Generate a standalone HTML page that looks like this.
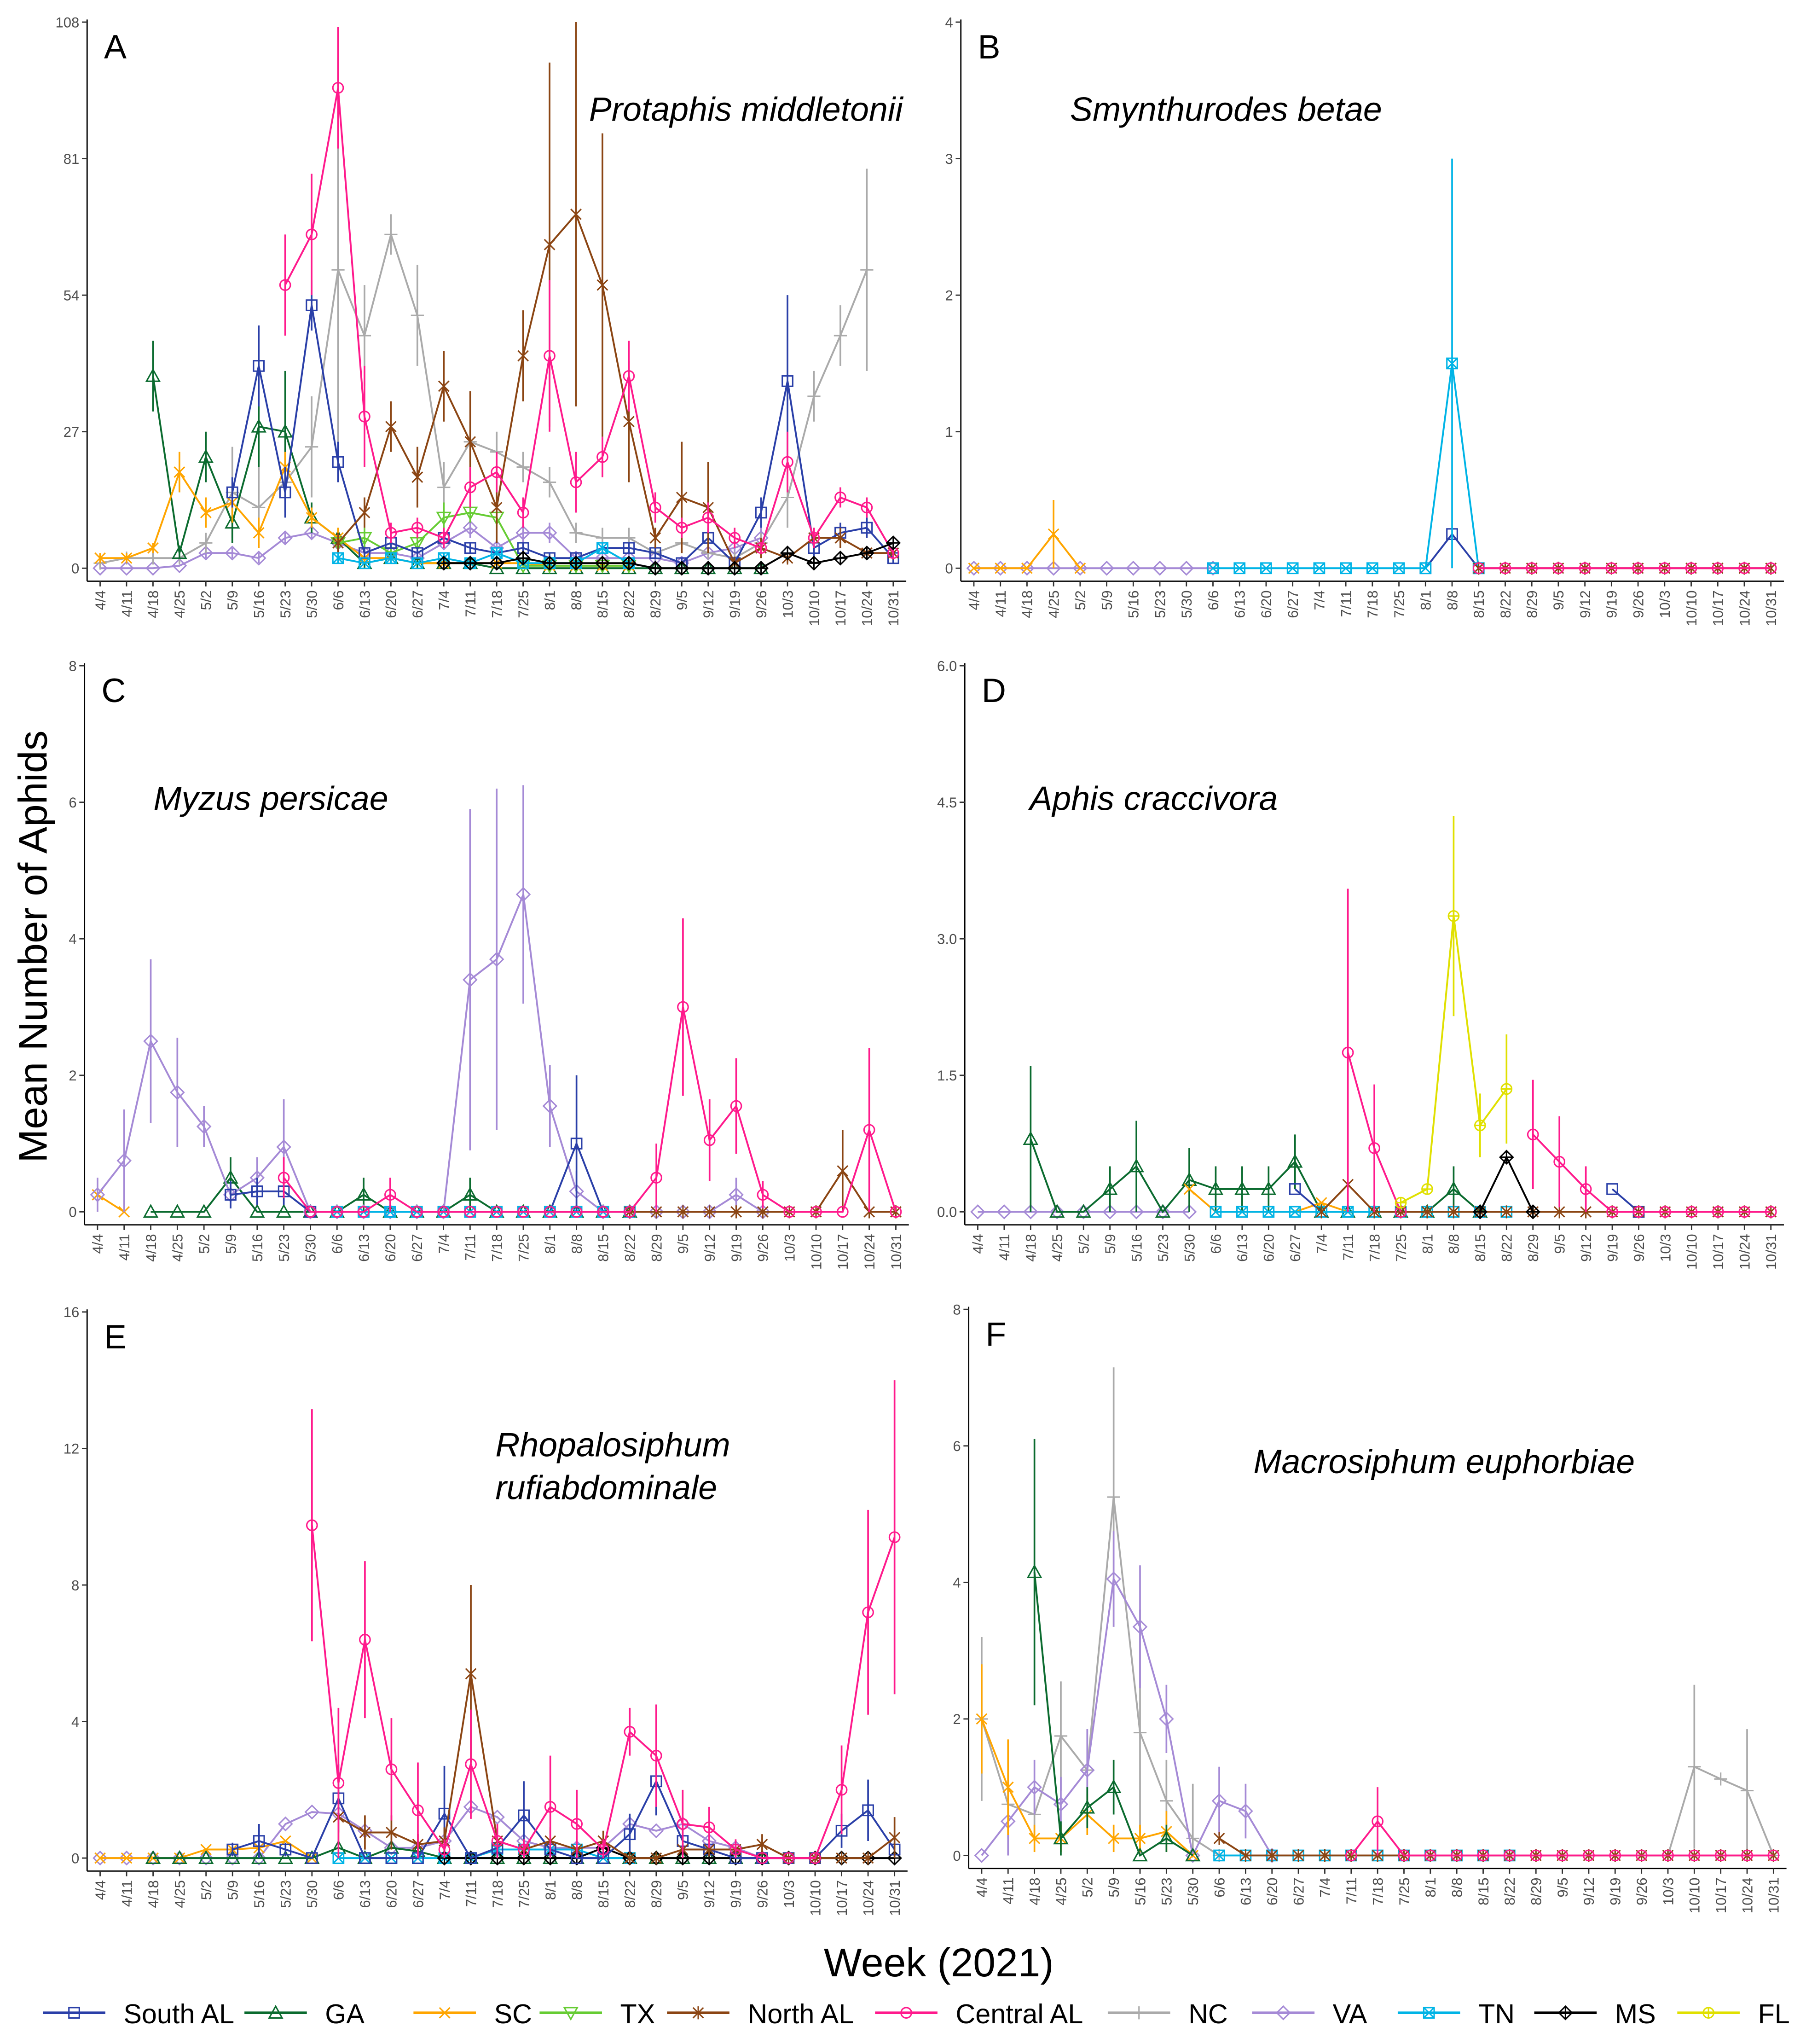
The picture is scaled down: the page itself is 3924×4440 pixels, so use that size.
<!DOCTYPE html>
<html><head><meta charset="utf-8"><style>
html,body{margin:0;padding:0;background:#fff}
svg{display:block}
text{font-family:"Liberation Sans",sans-serif}
</style></head><body>
<svg id="chart" width="3924" height="4440" viewBox="0 0 1389 1572" preserveAspectRatio="none" xmlns="http://www.w3.org/2000/svg">
<rect x="0" y="0" width="1389" height="1572" fill="#fff"/>
<g id="root"></g>
</svg>
<script>
const n = null;
const weeks = ["4/4","4/11","4/18","4/25","5/2","5/9","5/16","5/23","5/30","6/6","6/13","6/20","6/27","7/4","7/11","7/18","7/25","8/1","8/8","8/15","8/22","8/29","9/5","9/12","9/19","9/26","10/3","10/10","10/17","10/24","10/31"];

// Panel A
const A_southAL = [n,n,n,n,n,15,40,15,52,21,3,5,3,6,4,3,4,2,2,4,4,3,1,6,1,11,37,4,7,8,2];
const A_southAL_err = [0,0,0,0,0,3,8,5,5,4,1,1,1,1,1,1,1,1,1,1,1,1,1,2,1,3,17,2,2,2,1];
const A_GA = [n,n,38,3,22,9,28,27,10,6,1,2,1,1,1,0,0,0,0,0,0,0,0,0,0,0,n,n,n,n,n];
const A_GA_err = [0,0,7,1,5,4,8,12,3,2,1,1,1,1,1,0,0,0,0,0,0,0,0,0,0,0,0,0,0,0,0];
const A_SC = [2,2,4,19,11,13,7,20,10,6,2,2,1,1,1,1,1,0.5,0.5,0.5,0.5,n,n,n,n,n,n,n,n,n,n];
const A_SC_err = [1,1,1,4,3,4,3,3,2,2,1,1,0,0,0,0,0,0,0,0,0,0,0,0,0,0,0,0,0,0,0];
const A_TX = [n,n,n,n,n,n,n,n,n,5,6,3,5,10,11,10,0.5,0.5,0.5,0.5,0.5,n,n,n,n,n,n,n,n,n,n];
const A_TX_err = [0,0,0,0,0,0,0,0,0,1,2,1,2,3,2,3,0,0,0,0,0,0,0,0,0,0,0,0,0,0,0];
const A_northAL = [n,n,n,n,n,n,n,n,n,5,11,28,18,36,25,12,42,64,70,56,29,6,14,12,1,4,2,6,6,3,3];
const A_northAL_err = [0,0,0,0,0,0,0,0,0,2,3,5,6,7,10,7,9,36,38,30,12,2,11,9,1,2,1,2,2,1,1];
const A_centralAL = [n,n,n,n,n,n,n,56,66,95,30,7,8,6,16,19,11,42,17,22,38,12,8,10,6,4,21,6,14,12,3];
const A_centralAL_err = [0,0,0,0,0,0,0,10,12,12,10,2,2,2,4,4,3,15,6,4,7,3,2,3,2,1,6,2,2,2,1];
const A_NC = [1,2,2,2,5,15,12,17,24,59,46,66,50,16,25,23,20,17,7,6,6,3,5,3,2,5,14,34,46,59,n];
const A_NC_err = [1,1,1,1,2,9,8,6,10,42,10,4,10,5,4,4,3,3,2,2,2,1,2,1,1,2,6,5,6,20,0];
const A_VA = [0,0,0,0.5,3,3,2,6,7,5,3,3,2,5,8,4,7,7,2,2,2,2,1,3,4,6,n,n,n,n,n];
const A_VA_err = [0,0,0,0,1,1,1,1,1,1,1,1,1,1,2,1,2,2,1,1,1,1,0,1,1,2,0,0,0,0,0];
const A_TN = [n,n,n,n,n,n,n,n,n,2,1,2,1,2,1,3,1,1,1,4,1,n,n,n,n,n,n,n,n,n,n];
const A_TN_err = [0,0,0,0,0,0,0,0,0,1,0,1,0,1,0,1,0,0,0,1,0,0,0,0,0,0,0,0,0,0,0];
const A_MS = [n,n,n,n,n,n,n,n,n,n,n,n,n,1,1,1,2,1,1,1,1,0,0,0,0,0,3,1,2,3,5];

// Panel B
const B_VA = [0,0,0,0,0,0,0,0,0,0,n,n,n,n,n,n,n,n,n,n,n,n,n,n,n,n,n,n,n,n,n];
const B_SC = [0,0,0,0.25,0,n,n,n,n,n,n,n,n,n,n,n,n,n,n,n,n,n,n,n,n,n,n,n,n,n,n];
const B_SC_err = [0,0,0,0.25,0,0,0,0,0,0,0,0,0,0,0,0,0,0,0,0,0,0,0,0,0,0,0,0,0,0,0];
const B_southAL = [n,n,n,n,n,n,n,n,n,n,n,n,n,n,n,n,n,0,0.25,0,n,n,n,n,n,n,n,n,n,n,n];
const B_TN = [n,n,n,n,n,n,n,n,n,0,0,0,0,0,0,0,0,0,1.5,0,n,n,n,n,n,n,n,n,n,n,n];
const B_TN_err = [0,0,0,0,0,0,0,0,0,0,0,0,0,0,0,0,0,0,1.5,0,0,0,0,0,0,0,0,0,0,0,0];
const B_centralAL = [n,n,n,n,n,n,n,n,n,n,n,n,n,n,n,n,n,n,n,0,0,0,0,0,0,0,0,0,0,0,0];
const B_northAL = [n,n,n,n,n,n,n,n,n,n,n,n,n,n,n,n,n,n,n,0,0,0,0,0,0,0,0,0,0,0,0];

// Panel C
const C_VA = [0.25,0.75,2.5,1.75,1.25,0.25,0.5,0.95,0,0,0,0,0,0,3.4,3.7,4.65,1.55,0.3,0,0,0,0,0,0.25,0,n,n,n,n,n];
const C_VA_err = [0.25,0.75,1.2,0.8,0.3,0.2,0.3,0.7,0,0,0,0,0,0,2.5,2.5,1.6,0.6,0.3,0,0,0,0,0,0.25,0,0,0,0,0,0];
const C_SC = [0.25,0,n,n,n,n,n,n,n,n,n,n,n,n,n,n,n,n,n,n,n,n,n,n,n,n,n,n,n,n,n];
const C_GA = [n,n,0,0,0,0.5,0,0,0,0,0.25,0,0,0,0.25,0,0,0,0,0,0,n,n,n,n,n,n,n,n,n,n];
const C_GA_err = [0,0,0,0,0,0.3,0,0,0,0,0.25,0,0,0,0.25,0,0,0,0,0,0,0,0,0,0,0,0,0,0,0,0];
const C_southAL = [n,n,n,n,n,0.25,0.3,0.3,0,0,0,0,0,0,0,0,0,0,1.0,0,0,n,n,n,n,n,n,n,n,n,n];
const C_southAL_err = [0,0,0,0,0,0.2,0.2,0.2,0,0,0,0,0,0,0,0,0,0,1.0,0,0,0,0,0,0,0,0,0,0,0,0];
const C_centralAL = [n,n,n,n,n,n,n,0.5,0,0,0,0.25,0,0,0,0,0,0,0,0,0,0.5,3.0,1.05,1.55,0.25,0,0,0,1.2,0];
const C_centralAL_err = [0,0,0,0,0,0,0,0.3,0,0,0,0.25,0,0,0,0,0,0,0,0,0,0.5,1.3,0.6,0.7,0.2,0,0,0,1.2,0];
const C_northAL = [n,n,n,n,n,n,n,n,n,n,n,n,n,n,n,n,n,n,n,n,0,0,0,0,0,0,0,0,0.6,0,0];
const C_northAL_err = [0,0,0,0,0,0,0,0,0,0,0,0,0,0,0,0,0,0,0,0,0,0,0,0,0,0,0,0,0.6,0,0];
const C_TN = [n,n,n,n,n,n,n,n,n,0,0,0,0,0,0,0,0,0,0,0,0,n,n,n,n,n,n,n,n,n,n];

// Panel D
const D_VA = [0,0,0,0,0,0,0,0,0,n,n,n,n,n,n,n,n,n,n,n,n,n,n,n,n,n,n,n,n,n,n];
const D_GA = [n,n,0.8,0,0,0.25,0.5,0,0.35,0.25,0.25,0.25,0.55,0,0,0,0,0,0.25,0,n,n,n,n,n,n,n,n,n,n,n];
const D_GA_err = [0,0,0.8,0,0,0.25,0.5,0,0.35,0.25,0.25,0.25,0.3,0,0,0,0,0,0.25,0,0,0,0,0,0,0,0,0,0,0,0];
const D_SC = [n,n,n,n,n,n,n,n,0.25,0,0,0,0,0.1,0,n,n,n,n,n,n,n,n,n,n,n,n,n,n,n,n];
const D_southAL = [n,n,n,n,n,n,n,n,n,n,n,n,0.25,0,n,n,n,n,n,n,n,n,n,n,0.25,0,n,n,n,n,n];
const D_northAL = [n,n,n,n,n,n,n,n,n,n,n,n,n,0,0.3,0,0,0,0,0,0,0,0,0,0,0,0,0,0,0,0];
const D_centralAL = [n,n,n,n,n,n,n,n,n,n,n,n,n,n,1.75,0.7,0,n,n,n,n,0.85,0.55,0.25,0,0,0,0,0,0,0];
const D_centralAL_err = [0,0,0,0,0,0,0,0,0,0,0,0,0,0,1.8,0.7,0,0,0,0,0,0.6,0.5,0.25,0,0,0,0,0,0,0];
const D_FL = [n,n,n,n,n,n,n,n,n,n,n,n,n,n,n,n,0.1,0.25,3.25,0.95,1.35,n,n,n,n,n,n,n,n,n,n];
const D_FL_err = [0,0,0,0,0,0,0,0,0,0,0,0,0,0,0,0,0,0,1.1,0.35,0.6,0,0,0,0,0,0,0,0,0,0];
const D_MS = [n,n,n,n,n,n,n,n,n,n,n,n,n,n,n,n,n,n,n,0,0.6,0,n,n,n,n,n,n,n,n,n];
const D_TN = [n,n,n,n,n,n,n,n,n,0,0,0,0,0,0,0,0,0,0,0,0,n,n,n,n,n,n,n,n,n,n];

// Panel E
const E_VA = [0,0,0,0,0,0,0,1.0,1.35,1.3,0.8,0.3,0.3,0.5,1.5,1.2,0.5,0.3,0.3,0.3,1.0,0.8,1.0,0.5,0.3,0,n,n,n,n,n];
const E_SC = [0,0,0,0,0.25,0.25,0.3,0.5,0,n,n,n,n,n,n,n,n,n,n,n,n,n,n,n,n,n,n,n,n,n,n];
const E_GA = [n,n,0,0,0,0,0,0,0,0.3,0,0.3,0.2,0,0,0,0,0,0,0,0,0,0,0,0,0,n,n,n,n,n];
const E_southAL = [n,n,n,n,n,0.25,0.5,0.25,0,1.75,0,0,0,1.3,0,0.3,1.25,0.25,0,0,0.7,2.25,0.5,0.25,0,0,0,0,0.8,1.4,0.25];
const E_southAL_err = [0,0,0,0,0,0.2,0.5,0.2,0,1.0,0,0,0,1.4,0,0.3,1.0,0.2,0,0,0.6,1.0,0.3,0.2,0,0,0,0,0.5,0.9,0.2];
const E_northAL = [n,n,n,n,n,n,n,n,n,1.2,0.75,0.75,0.4,0.5,5.4,0.5,0.25,0.5,0.25,0.5,0,0,0.25,0.25,0.25,0.4,0,0,0,0,0.6];
const E_northAL_err = [0,0,0,0,0,0,0,0,0,0.8,0.5,0.5,0.3,0.4,2.6,0.4,0.2,0.4,0.2,0.3,0,0,0.2,0.2,0.2,0.3,0,0,0,0,0.6];
const E_centralAL = [n,n,n,n,n,n,n,n,9.75,2.2,6.4,2.6,1.4,0.25,2.75,0.5,0.25,1.5,1.0,0.25,3.7,3.0,1.0,0.9,0.25,0,0,0,2.0,7.2,9.4];
const E_centralAL_err = [0,0,0,0,0,0,0,0,3.4,2.2,2.3,1.5,1.4,0.3,1.6,0.5,0.3,1.5,1.0,0.3,0.7,1.5,1.0,0.6,0.3,0,0,0,1.3,3.0,4.6];
const E_TN = [n,n,n,n,n,n,n,n,n,0,0,0,0,0,0,0.25,0.25,0.25,0.25,0,0,n,n,n,n,n,n,n,n,n,n];
const E_MS = [n,n,n,n,n,n,n,n,n,n,n,n,n,0,0,0,0,0,0,0.3,0,0,0,0,0,0,0,0,0,0,0];

// Panel F
const F_SC = [2.0,1.0,0.25,0.25,0.6,0.25,0.25,0.35,0,n,n,n,n,n,n,n,n,n,n,n,n,n,n,n,n,n,n,n,n,n,n];
const F_SC_err = [0.8,0.7,0.2,0.2,0.3,0.2,0.2,0.3,0,0,0,0,0,0,0,0,0,0,0,0,0,0,0,0,0,0,0,0,0,0,0];
const F_NC = [2.0,0.75,0.6,1.75,1.25,5.25,1.8,0.8,0.25,0,0,0,0,0,0,0,0,0,0,0,0,0,0,0,0,0,0,1.3,1.12,0.95,0];
const F_NC_err = [1.2,0.5,0.3,0.8,0.6,1.9,1.8,0.6,0.8,0,0,0,0,0,0,0,0,0,0,0,0,0,0,0,0,0,0,1.2,0,0.9,0];
const F_VA = [0,0.5,1.0,0.75,1.25,4.05,3.35,2.0,0,0.8,0.65,0,n,n,n,n,n,n,n,n,n,n,n,n,n,n,n,n,n,n,n];
const F_VA_err = [0,0.5,0.4,0.4,0.6,0.7,0.9,0.5,0,0.5,0.4,0,0,0,0,0,0,0,0,0,0,0,0,0,0,0,0,0,0,0,0];
const F_GA = [n,n,4.15,0.25,0.7,1.0,0,0.25,0,n,n,n,n,n,n,n,n,n,n,n,n,n,n,n,n,n,n,n,n,n,n];
const F_GA_err = [0,0,1.95,0.25,0.3,0.4,0,0.2,0,0,0,0,0,0,0,0,0,0,0,0,0,0,0,0,0,0,0,0,0,0,0];
const F_TN = [n,n,n,n,n,n,n,n,n,0,0,0,0,0,0,0,0,0,0,0,0,n,n,n,n,n,n,n,n,n,n];
const F_northAL = [n,n,n,n,n,n,n,n,n,0.25,0,0,0,0,0,0,0,0,0,0,0,0,0,0,0,0,0,0,0,0,0];
const F_centralAL = [n,n,n,n,n,n,n,n,n,n,n,n,n,n,0,0.5,0,0,0,0,0,0,0,0,0,0,0,0,0,0,0];
const F_centralAL_err = [0,0,0,0,0,0,0,0,0,0,0,0,0,0,0,0.5,0,0,0,0,0,0,0,0,0,0,0,0,0,0,0];

const COLORS = {southAL:"#2a3fa8",GA:"#0b6b2f",SC:"#ffa500",TX:"#66cc33",northAL:"#8b4513",centralAL:"#ff1a8c",NC:"#aaaaaa",VA:"#a58ad6",TN:"#00b4e6",MS:"#000000",FL:"#e0e000"};
const LABELS = {southAL:"South AL",GA:"GA",SC:"SC",TX:"TX",northAL:"North AL",centralAL:"Central AL",NC:"NC",VA:"VA",TN:"TN",MS:"MS",FL:"FL"};

const panels = [
 {id:"A",title:["Protaphis middletonii"],tx:453,ty:93,x0:77,x1:687,yTop:17,yBot:437,ymax:108,ticks:[0,27,54,81,108],fmt:0,
  series:[["VA",A_VA,A_VA_err],["NC",A_NC,A_NC_err],["GA",A_GA,A_GA_err],["SC",A_SC,A_SC_err],["TX",A_TX,A_TX_err],["southAL",A_southAL,A_southAL_err],["northAL",A_northAL,A_northAL_err],["centralAL",A_centralAL,A_centralAL_err],["TN",A_TN,A_TN_err],["MS",A_MS,null]]},
 {id:"B",title:["Smynthurodes betae"],tx:823,ty:93,x0:749,x1:1362,yTop:17,yBot:437,ymax:4,ticks:[0,1,2,3,4],fmt:0,
  series:[["VA",B_VA,null],["SC",B_SC,B_SC_err],["southAL",B_southAL,null],["TN",B_TN,B_TN_err],["northAL",B_northAL,null],["centralAL",B_centralAL,null]]},
 {id:"C",title:["Myzus persicae"],tx:118,ty:623,x0:75,x1:689,yTop:512,yBot:932,ymax:8,ticks:[0,2,4,6,8],fmt:0,
  series:[["SC",C_SC,null],["GA",C_GA,C_GA_err],["VA",C_VA,C_VA_err],["southAL",C_southAL,C_southAL_err],["TN",C_TN,null],["northAL",C_northAL,C_northAL_err],["centralAL",C_centralAL,C_centralAL_err]]},
 {id:"D",title:["Aphis craccivora"],tx:792,ty:623,x0:752,x1:1362,yTop:512,yBot:932,ymax:6,ticks:[0,1.5,3,4.5,6],fmt:1,
  series:[["VA",D_VA,null],["GA",D_GA,D_GA_err],["SC",D_SC,null],["southAL",D_southAL,null],["TN",D_TN,null],["northAL",D_northAL,null],["centralAL",D_centralAL,D_centralAL_err],["FL",D_FL,D_FL_err],["MS",D_MS,null]]},
 {id:"E",title:["Rhopalosiphum","rufiabdominale"],tx:381,ty:1120,x0:77,x1:688,yTop:1009,yBot:1429,ymax:16,ticks:[0,4,8,12,16],fmt:0,
  series:[["VA",E_VA,null],["SC",E_SC,null],["GA",E_GA,null],["TN",E_TN,null],["MS",E_MS,null],["southAL",E_southAL,E_southAL_err],["northAL",E_northAL,E_northAL_err],["centralAL",E_centralAL,E_centralAL_err]]},
 {id:"F",title:["Macrosiphum euphorbiae"],tx:964,ty:1133,x0:755,x1:1364,yTop:1007,yBot:1427,ymax:8,ticks:[0,2,4,6,8],fmt:0,
  series:[["NC",F_NC,F_NC_err],["VA",F_VA,F_VA_err],["SC",F_SC,F_SC_err],["GA",F_GA,F_GA_err],["TN",F_TN,null],["northAL",F_northAL,null],["centralAL",F_centralAL,F_centralAL_err]]}
];

const NS = "http://www.w3.org/2000/svg";
const root = document.getElementById("root");
function mk(tag, attrs, parent){
  const e = document.createElementNS(NS, tag);
  for (const k in attrs) e.setAttribute(k, attrs[k]);
  (parent||root).appendChild(e);
  return e;
}
function marker(key, x, y, g){
  const c = COLORS[key], s = 4;
  const base = {fill:"none",stroke:c,"stroke-width":1.1};
  let m;
  if (key==="southAL") m = mk("rect",Object.assign({x:x-s,y:y-s,width:2*s,height:2*s},base),g);
  else if (key==="GA") m = mk("polygon",Object.assign({points:`${x},${y-5} ${x-5},${y+4} ${x+5},${y+4}`},base),g);
  else if (key==="TX") m = mk("polygon",Object.assign({points:`${x},${y+5} ${x-5},${y-4} ${x+5},${y-4}`},base),g);
  else if (key==="SC") m = mk("path",Object.assign({d:`M${x-s} ${y-s}L${x+s} ${y+s}M${x-s} ${y+s}L${x+s} ${y-s}`},base),g);
  else if (key==="northAL") m = mk("path",Object.assign({d:`M${x-s} ${y-s}L${x+s} ${y+s}M${x-s} ${y+s}L${x+s} ${y-s}M${x} ${y-5}L${x} ${y+5}`},base),g);
  else if (key==="centralAL") m = mk("circle",Object.assign({cx:x,cy:y,r:s},base),g);
  else if (key==="NC") m = mk("path",Object.assign({d:`M${x-5} ${y}L${x+5} ${y}M${x} ${y-5}L${x} ${y+5}`},base),g);
  else if (key==="VA") m = mk("polygon",Object.assign({points:`${x},${y-5} ${x+5},${y} ${x},${y+5} ${x-5},${y}`},base),g);
  else if (key==="TN") m = mk("path",Object.assign({d:`M${x-s} ${y-s}h${2*s}v${2*s}h${-2*s}zM${x-s} ${y-s}L${x+s} ${y+s}M${x-s} ${y+s}L${x+s} ${y-s}`},base),g);
  else if (key==="MS") m = mk("path",Object.assign({d:`M${x} ${y-5}L${x+5} ${y}L${x} ${y+5}L${x-5} ${y}zM${x-5} ${y}L${x+5} ${y}M${x} ${y-5}L${x} ${y+5}`},base),g);
  else m = mk("path",Object.assign({d:`M${x+s} ${y}A${s} ${s} 0 1 1 ${x-s} ${y}A${s} ${s} 0 1 1 ${x+s} ${y}M${x-s} ${y}L${x+s} ${y}M${x} ${y-s}L${x} ${y+s}`},base),g);
  
  
}

panels.forEach(p => {
  const g = mk("g", {});
  
  
  const step = (p.x1 - p.x0) / (weeks.length - 1);
  const xs = i => p.x0 + step * i;
  const ys = v => p.yBot - v / p.ymax * (p.yBot - p.yTop);
  const axL = p.x0 - 10, axB = p.yBot + 10, axR = p.x1 + 10;
  const ya = mk("line",{x1:axL,y1:p.yTop-2,x2:axL,y2:axB,stroke:"#000","stroke-width":1},g);
  
  
  const xa = mk("line",{x1:axL,y1:axB,x2:axR,y2:axB,stroke:"#000","stroke-width":1},g);
  
  
  p.ticks.forEach(t => {
    const y = ys(t);
    mk("line",{x1:axL-4,y1:y,x2:axL,y2:y,stroke:"#333","stroke-width":1},g);
    const tl = mk("text",{x:axL-6,y:y+4,"text-anchor":"end","font-size":11,fill:"#4d4d4d"},g);
    tl.textContent = p.fmt ? t.toFixed(1) : String(t);
    
    
  });
  weeks.forEach((w,i) => {
    const x = xs(i);
    mk("line",{x1:x,y1:axB,x2:x,y2:axB+4,stroke:"#333","stroke-width":1},g);
    const tl = mk("text",{x:0,y:0,"text-anchor":"end","font-size":11,fill:"#4d4d4d",transform:`translate(${x+4},${axB+7}) rotate(-90)`},g);
    tl.textContent = w;
    
    
  });
  p.series.forEach(([key, vals, errs]) => {
    const sg = mk("g",{},g);
    
    
    const c = COLORS[key];
    let d = "", pen = false;
    vals.forEach((v,i) => {
      if (v === null) { pen = false; return; }
      d += (pen ? "L" : "M") + xs(i).toFixed(1) + " " + ys(v).toFixed(1);
      pen = true;
    });
    const ln = mk("path",{d:d,fill:"none",stroke:c,"stroke-width":1.4},sg);
    
    
    if (errs) vals.forEach((v,i) => {
      if (v === null || !errs[i]) return;
      const eb = mk("line",{x1:xs(i),x2:xs(i),y1:ys(Math.max(0,v-errs[i])),y2:ys(v+errs[i]),stroke:c,"stroke-width":1.3},sg);
      
      
    });
    vals.forEach((v,i) => { if (v !== null) marker(key, xs(i), ys(v), sg); });
  });
  const pl = mk("text",{x:p.x0+3,y:p.yTop+28,"font-size":26,fill:"#000"},g);
  pl.textContent = p.id;
  
  
  p.title.forEach((t,k) => {
    const tt = mk("text",{x:p.tx,y:p.ty+k*33,"font-size":26,"font-style":"italic",fill:"#000"},g);
    tt.textContent = t;
    
    
  });
});

const yt = mk("text",{x:0,y:0,"text-anchor":"middle","font-size":31,fill:"#000",transform:"translate(36,728) rotate(-90)"});
yt.textContent = "Mean Number of Aphids";


const xt = mk("text",{x:722,y:1520,"text-anchor":"middle","font-size":31,fill:"#000"});
xt.textContent = "Week (2021)";



const legendKeys = ["southAL","GA","SC","TX","northAL","centralAL","NC","VA","TN","MS","FL"];
const legendX = [33,188,318,415,513,673,852,963,1075,1180,1290];
const lg = mk("g",{});


legendKeys.forEach((k,i) => {
  const eg = mk("g",{},lg);
  
  
  const x = legendX[i];
  mk("line",{x1:x,y1:1548,x2:x+48,y2:1548,stroke:COLORS[k],"stroke-width":2},eg);
  marker(k, x+24, 1548, eg);
  const t = mk("text",{x:x+62,y:1556,"font-size":21,fill:"#000"},eg);
  t.textContent = LABELS[k];
  
  
});
</script>
</body></html>
